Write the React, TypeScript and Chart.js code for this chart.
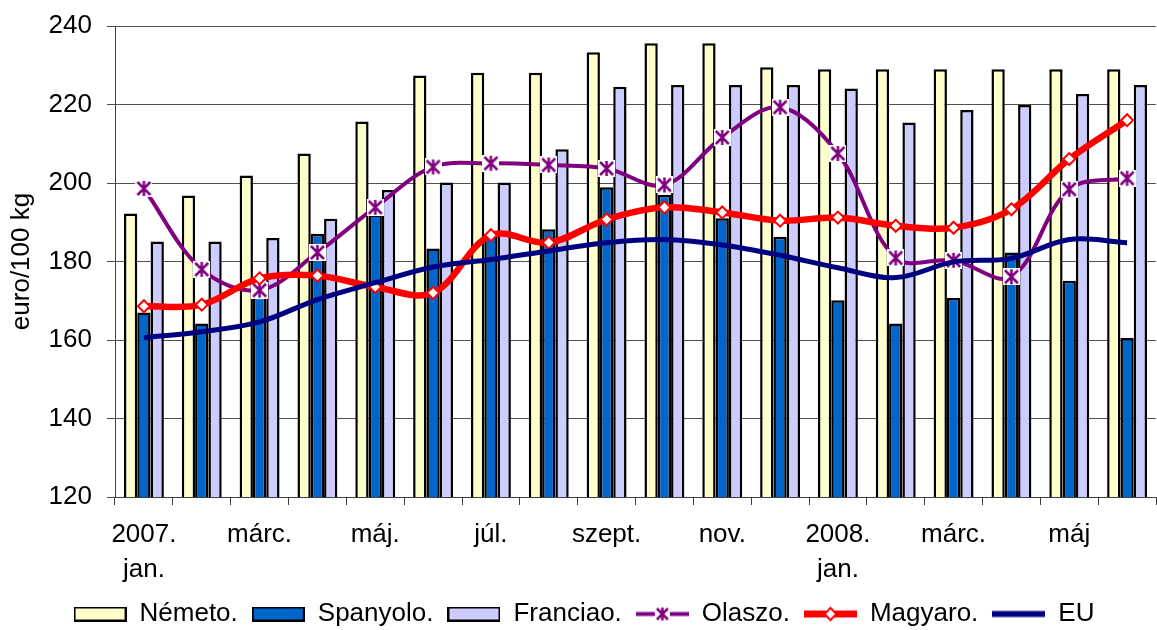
import React, { useEffect, useRef } from 'react';
import { Chart, registerables } from 'chart.js';

Chart.register(...registerables);

const categories = ['2007. jan.', 'febr.', 'márc.', 'ápr.', 'máj.', 'jún.', 'júl.', 'aug.', 'szept.', 'okt.', 'nov.', 'dec.', '2008. jan.', 'febr.', 'márc.', 'ápr.', 'máj', 'jún.'];
const tickLabels: (string | string[])[] = [['2007.', 'jan.'], '', 'márc.', '', 'máj.', '', 'júl.', '', 'szept.', '', 'nov.', '', ['2008.', 'jan.'], '', 'márc.', '', 'máj', ''];

const nemet = [192.2, 196.8, 201.9, 207.5, 215.7, 227.4, 228.1, 228.1, 233.3, 235.6, 235.6, 229.5, 229, 229, 229, 229, 229, 229];
const spanyol = [167, 164.2, 171, 187.1, 192, 183.3, 187, 188.2, 198.9, 197, 191, 186.3, 170.1, 164.2, 170.7, 182.3, 175.1, 160.5];
const francia = [185.1, 185.1, 186, 190.9, 198.2, 200.1, 200.1, 208.6, 224.5, 225, 225, 225, 224.1, 215.4, 218.6, 219.9, 222.7, 225];
const olasz = [198.6, 178, 172.7, 182.3, 193.8, 204.1, 205, 204.6, 203.7, 199.5, 211.6, 219.3, 207.5, 180.9, 180.3, 176.1, 198.4, 201.2];
const magyar = [168.6, 169, 175.7, 176.4, 173.5, 172, 186.7, 184.8, 190.7, 193.8, 192.5, 190.4, 191.2, 189.1, 188.6, 193.3, 206.1, 216];
const eu = [160.6, 162.1, 164.6, 170.3, 174.6, 178.6, 180.5, 182.7, 184.8, 185.6, 184.2, 181.6, 178.4, 175.9, 179.9, 180.8, 185.6, 184.8];

const yMin = 120;
const yMax = 240;
const yStep = 20;

const C_NEMET = '#FFFFCC';
const C_SPAN = '#0066CC';
const C_FRAN = '#CCCCFF';
const C_OLASZ = '#800080';
const C_MAGY = '#FF0000';
const C_EU = '#000080';

function makeCanvas(w: number, h: number) {
  const c = document.createElement('canvas');
  c.width = w;
  c.height = h;
  return c;
}

function makeStar(size: number, withBg: boolean) {
  const c = makeCanvas(size, size);
  const g = c.getContext('2d')!;
  if (withBg) {
    g.fillStyle = '#fff';
    g.fillRect(0, 0, size, size);
  }
  g.strokeStyle = C_OLASZ;
  g.lineWidth = 2.5;
  g.beginPath();
  g.moveTo(2, 2);
  g.lineTo(size - 2, size - 2);
  g.moveTo(size - 2, 2);
  g.lineTo(2, size - 2);
  g.moveTo(size / 2, 1);
  g.lineTo(size / 2, size - 1);
  g.stroke();
  return c;
}

function makeBoxImg(color: string) {
  const c = makeCanvas(53, 15);
  const g = c.getContext('2d')!;
  g.fillStyle = '#000';
  g.fillRect(0, 0, 53, 15);
  g.fillStyle = color;
  g.fillRect(2, 2, 49, 11);
  return c;
}

function makeLineImg(color: string, width: number, marker: 'star' | 'diamond' | 'none') {
  const c = makeCanvas(53, 19);
  const g = c.getContext('2d')!;
  g.strokeStyle = color;
  g.lineWidth = width;
  g.beginPath();
  g.moveTo(0, 9.5);
  g.lineTo(53, 9.5);
  g.stroke();
  if (marker === 'star') {
    const s = makeStar(15, true);
    g.drawImage(s, 19, 2);
  } else if (marker === 'diamond') {
    g.fillStyle = '#fff';
    g.strokeStyle = color;
    g.lineWidth = 2;
    g.beginPath();
    g.moveTo(26.5 - 6, 9.5);
    g.lineTo(26.5, 3.5);
    g.lineTo(26.5 + 6, 9.5);
    g.lineTo(26.5, 15.5);
    g.closePath();
    g.fill();
    g.stroke();
  }
  return c;
}

export default function App() {
  const ref = useRef<HTMLCanvasElement | null>(null);

  useEffect(() => {
    if (!ref.current) return;
    Chart.defaults.font.family = '"Liberation Sans", Arial, sans-serif';
    Chart.defaults.color = '#000';

    const starImg = makeStar(17, true);
    const legendImgs = [
      makeBoxImg(C_NEMET),
      makeBoxImg(C_SPAN),
      makeBoxImg(C_FRAN),
      makeLineImg(C_OLASZ, 4, 'star'),
      makeLineImg(C_MAGY, 7, 'diamond'),
      makeLineImg(C_EU, 6, 'none'),
    ];

    const barCommon = {
      type: 'bar' as const,
      borderColor: '#000',
      borderWidth: 2.5,
      borderSkipped: false as const,
      categoryPercentage: 0.69,
      barPercentage: 1.0,
      order: 10,
    };

    const chart = new Chart(ref.current, {
      type: 'bar',
      data: {
        labels: categories,
        datasets: [
          { ...barCommon, label: 'Németo.', data: nemet, backgroundColor: C_NEMET },
          { ...barCommon, label: 'Spanyolo.', data: spanyol, backgroundColor: C_SPAN },
          { ...barCommon, label: 'Franciao.', data: francia, backgroundColor: C_FRAN },
          {
            type: 'line', label: 'Olaszo.', data: olasz, borderColor: C_OLASZ, backgroundColor: '#fff',
            borderWidth: 4, tension: 0.35, pointStyle: starImg as any, pointRadius: 8, order: 3,
          },
          {
            type: 'line', label: 'Magyaro.', data: magyar, borderColor: C_MAGY, backgroundColor: '#fff',
            borderWidth: 6.5, tension: 0.35, pointStyle: 'rectRot', pointRadius: 6, pointBorderWidth: 2,
            pointBackgroundColor: '#fff', pointBorderColor: C_MAGY, order: 2,
          },
          {
            type: 'line', label: 'EU', data: eu, borderColor: C_EU, backgroundColor: C_EU,
            borderWidth: 5, tension: 0.35, pointRadius: 0, order: 1,
          },
        ] as any,
      },
      options: {
        responsive: false,
        animation: false,
        layout: { padding: { top: 26, left: 0, right: 0, bottom: 0 } },
        plugins: {
          tooltip: { enabled: false },
          legend: {
            position: 'bottom',
            labels: {
              usePointStyle: true,
              pointStyleWidth: 53,
              boxHeight: 15,
              padding: 14,
              color: '#000',
              font: { size: 26 },
              generateLabels: (ch: any) => {
                const items = (Chart.defaults.plugins.legend.labels as any).generateLabels(ch);
                return items
                  .map((it: any) => ({ ...it, pointStyle: legendImgs[it.datasetIndex], rotation: 0 }))
                  .sort((a: any, b: any) => a.datasetIndex - b.datasetIndex);
              },
            },
          },
        },
        scales: {
          x: {
            offset: true,
            ticks: {
              color: '#000',
              font: { size: 26, lineHeight: 1.35 },
              padding: 12,
              autoSkip: false,
              maxRotation: 0,
              minRotation: 0,
              callback: (_v: any, i: number) => tickLabels[i],
            },
            grid: { display: true, drawOnChartArea: false, drawTicks: true, tickLength: 8, color: '#404040', offset: true },
            border: { display: true, color: '#404040' },
            afterFit: (s: any) => { s.height = 90; s.paddingLeft = 0; s.paddingRight = 0; },
          },
          y: {
            min: yMin,
            max: yMax,
            ticks: { stepSize: yStep, color: '#000', font: { size: 26 }, padding: 15 },
            grid: { color: '#505050', lineWidth: 1, tickLength: 8, drawTicks: true },
            border: { display: true, color: '#404040', width: 1 },
            title: { display: true, text: 'euro/100 kg', color: '#000', font: { size: 26 }, padding: { top: 6, bottom: 0 } },
            afterFit: (s: any) => { s.width = 115; s.paddingTop = 0; s.paddingBottom = 0; },
          },
        },
      } as any,
    });
    return () => chart.destroy();
  }, []);

  return (
    <div style={{ position: 'absolute', left: 0, top: 0, width: 1157, height: 630, overflow: 'hidden', background: '#fff' }}>
      <canvas ref={ref} width={1168} height={637} style={{ display: 'block', width: 1168, height: 637 }} />
    </div>
  );
}
